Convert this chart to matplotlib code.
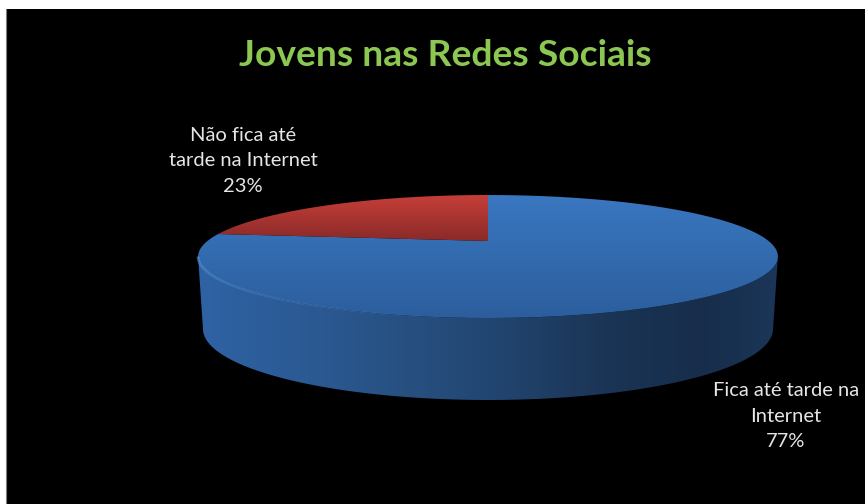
"""Pie chart on a black slide: young people and late nights on the Internet."""

import matplotlib
matplotlib.use('Agg')
import matplotlib.pyplot as plt
import numpy as np
from matplotlib.colors import LinearSegmentedColormap
from matplotlib.patches import PathPatch, Polygon, Rectangle
from matplotlib.path import Path

plt.rcParams['font.family'] = ['Lato', 'DejaVu Sans']

title = 'Jovens nas Redes Sociais'
categories = ['Fica até tarde na\nInternet', 'Não fica até\ntarde na Internet']
shares = [77, 23]

W, H = 865, 504

# perspective of the disc, all in pixels
CX = 488
TOP_Y = 241      # centre of the top face as projected
PERSP = 0.252
RX_TOP = 280.6
RY_TOP = 57.6
BASE_Y = 329     # the underside is a plain ellipse
RX_BASE = 285
RY_BASE = 71


def project(theta):
    # theta is the pie angle, clockwise from 12 o'clock
    u = np.sin(theta)
    v = np.cos(theta)
    w = 1 + PERSP * v
    return np.column_stack([CX + RX_TOP * u / w, TOP_Y - RY_TOP * v / w])


def gradient(ax, extent, stops, clip, horizontal=True):
    cmap = LinearSegmentedColormap.from_list('g', stops)
    ramp = np.linspace(0, 1, 256)
    ramp = ramp[None, :] if horizontal else ramp[:, None]
    im = ax.imshow(ramp, cmap=cmap, extent=extent, aspect='auto', zorder=2,
                   interpolation='bilinear', origin='upper')
    im.set_clip_path(clip)


def main():
    fig = plt.figure(figsize=(W / 100, H / 100), dpi=100, facecolor='white')
    ax = fig.add_axes([0, 0, 1, 1])
    ax.set_xlim(0, W)
    ax.set_ylim(H, 0)
    ax.axis('off')
    ax.add_patch(Rectangle((6, 9), W - 6, H - 9, fc='black', ec='none', zorder=0))
    ax.plot([5.6, 5.6], [9, H], color='#808080', lw=0.8, zorder=1)

    # side wall: front half of the top rim joined to the front half of the base
    t = np.linspace(1.825, 4.458, 300)
    rim = project(t)
    tb = np.linspace(np.pi / 2, 3 * np.pi / 2, 300)
    base = np.column_stack([CX + RX_BASE * np.sin(tb),
                            BASE_Y - RY_BASE * np.cos(tb)])
    wall = Polygon(np.vstack([rim, base[::-1]]), closed=True, fc='none',
                   ec='none', transform=ax.transData)
    ax.add_patch(wall)
    gradient(ax, (197, 778, 410, 230),
             [(0, '#2f63a5'), (0.18, '#2b5a94'), (0.36, '#275081'),
              (0.5, '#224672'), (0.7, '#1b3556'), (0.87, '#172d4b'),
              (1, '#1b3658')], wall)

    # top face, split into the two slices
    angles = 2 * np.pi * np.cumsum([0] + shares) / sum(shares)
    faces = [('#3977c0', '#2c5e9d', 195, 318), ('#c63e38', '#8a2a29', 195, 241)]
    for i in range(len(shares)):
        t = np.linspace(angles[i], angles[i + 1], 300)
        pts = np.vstack([[CX, TOP_Y], project(t), [CX, TOP_Y]])
        face = PathPatch(Path(pts), fc='none', ec='none', transform=ax.transData)
        ax.add_patch(face)
        light, dark, y_top, y_bot = faces[i]
        gradient(ax, (190, 790, y_bot, y_top), [light, dark], face,
                 horizontal=False)

    # lighter bevel along the front left of the rim, fading out to the right
    t = np.linspace(4.458, np.pi + 0.02, 60)
    edge = project(t)
    for i in range(len(edge) - 1):
        ax.plot(edge[i:i + 2, 0], edge[i:i + 2, 1], color='#5b96da',
                lw=2.0 - 1.2 * i / 60, alpha=0.65 * (1 - i / 60), zorder=3,
                solid_capstyle='butt')

    ax.set_xlim(0, W)
    ax.set_ylim(H, 0)

    ax.text(445, 56, title, color='#8cc751', fontsize=26.8, fontweight='bold',
            ha='center', va='center', zorder=5)
    text_style = dict(color='#e6e6e6', fontsize=14.5, ha='center', va='center',
                      linespacing=1.6, zorder=5)
    ax.text(786, 416, f'{categories[0]}\n{shares[0]}%', **text_style)
    ax.text(243, 161, f'{categories[1]}\n{shares[1]}%', **text_style)

    fig.savefig('out.png', dpi=100, facecolor='white')
    plt.close(fig)


if __name__ == '__main__':
    main()
